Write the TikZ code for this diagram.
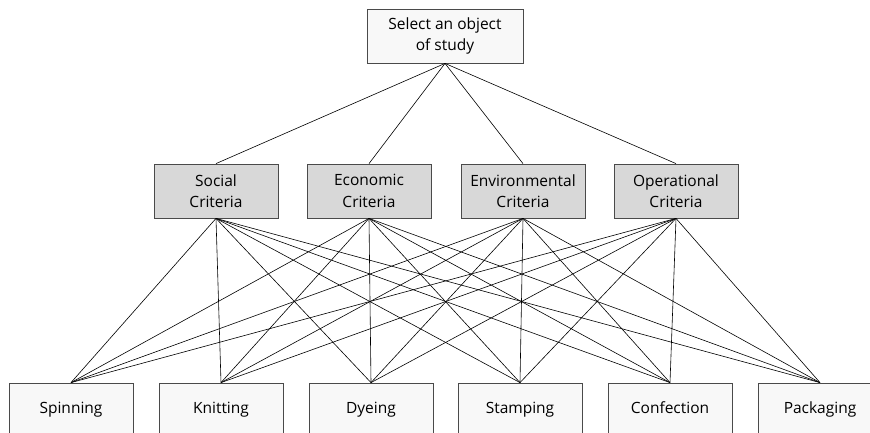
\documentclass[tikz,border=0pt]{standalone}
\usepackage{fontspec}
\setmainfont{Open Sans}
\usepackage{xcolor}
\definecolor{boxline}{HTML}{4A4A4A}
\definecolor{critfill}{HTML}{D8D8D8}
\definecolor{stepfill}{HTML}{F8F8F8}
\begin{document}
\begin{tikzpicture}[x=1pt,y=-1pt,
        box/.style={draw=boxline,line width=0.8pt,minimum width=124pt,minimum height=54pt,
                inner sep=0pt,align=center,font=\fontsize{15.5}{21.5}\selectfont},
        crit/.style={box,fill=critfill},
        stagebox/.style={box,fill=stepfill},
        procbox/.style={stagebox,text height=11pt,text depth=3.5pt},
        link/.style={black,line width=0.6pt}]
        \useasboundingbox (0,0) rectangle (870,432);
        \clip (0,0) rectangle (870,432);
        %研究对象
        \node[stagebox,minimum width=156pt,minimum height=54pt,
                font=\fontsize{15.5}{20.5}\selectfont] (obj) at (445,36) {Select an object\\of study};
        %准则层
        \node[crit] (soc) at (216,191) {Social\\Criteria};
        \node[crit] (eco) at (369,191) {Economic\\Criteria};
        \node[crit] (env) at (523,191) {Environmental\\Criteria};
        \node[crit] (ope) at (676,191) {Operational\\Criteria};
        %工序层
        \node[procbox] (spi) at (71,410) {Spinning};
        \node[procbox] (kni) at (221,410) {Knitting};
        \node[procbox] (dye) at (371,410) {Dyeing};
        \node[procbox] (sta) at (520,410) {Stamping};
        \node[procbox] (con) at (670,410) {Confection};
        \node[procbox] (pac) at (820,410) {Packaging};
        %画连线
        \foreach \c in {soc,eco,env,ope}
        {
                \draw[link] (obj.south) -- (\c.north);
                \foreach \p in {spi,kni,dye,sta,con,pac}
                        \draw[link] (\c.south) -- (\p.north);
        };
\end{tikzpicture}
\end{document}
